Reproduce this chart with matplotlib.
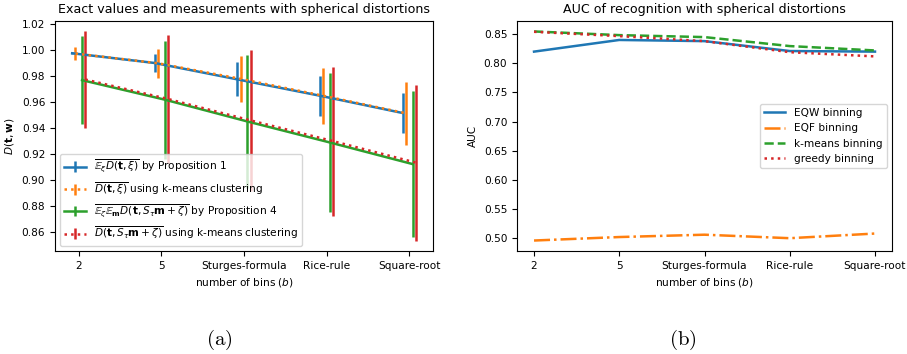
import matplotlib
matplotlib.use("Agg")
import matplotlib.pyplot as plt
import numpy as np

# categories (x axis)
bins = ["2", "5", "Sturges-formula", "Rice-rule", "Square-root"]

# left panel: means and error half-widths
prop1 = [0.9977, 0.9902, 0.9776, 0.9650, 0.9517]
prop1_err = [0.0009, 0.0070, 0.0130, 0.0153, 0.0156]
kmeans_xi = [0.9975, 0.9900, 0.9780, 0.9650, 0.9515]
kmeans_xi_err = [0.0047, 0.0110, 0.0177, 0.0215, 0.0244]
prop4 = [0.9770, 0.9620, 0.9452, 0.9290, 0.9124]
prop4_err = [0.0340, 0.0455, 0.0510, 0.0535, 0.0560]
kmeans_zeta = [0.9775, 0.9625, 0.9460, 0.9300, 0.9135]
kmeans_zeta_err = [0.0370, 0.0490, 0.0540, 0.0575, 0.0600]

# right panel: AUC
auc_eqw = [0.820, 0.840, 0.838, 0.821, 0.820]
auc_eqf = [0.496, 0.502, 0.506, 0.500, 0.508]
auc_kmeans = [0.8546, 0.8483, 0.8449, 0.8295, 0.822]
auc_greedy = [0.854, 0.8466, 0.838, 0.819, 0.8118]

plt.rcParams['font.size'] = 7.6
fig = plt.figure(figsize=(9.07, 3.54), dpi=100)
ax1 = fig.add_axes([0.0606, 0.291, 0.4168, 0.6497])
ax2 = fig.add_axes([0.570, 0.291, 0.4135, 0.6497])

x = np.arange(len(bins))
lw = 1.8
ax1.errorbar(x - 0.08, prop1, yerr=prop1_err, lw=lw, elinewidth=lw,
             label=r'$\overline{\mathbb{E}_\xi D(\mathbf{t},\xi)}$ by Proposition 1')
ax1.errorbar(x - 0.04, kmeans_xi, yerr=kmeans_xi_err, ls=':', lw=lw, elinewidth=lw,
             label=r'$\overline{D(\mathbf{t},\xi)}$ using k-means clustering')
ax1.errorbar(x + 0.04, prop4, yerr=prop4_err, lw=lw, elinewidth=lw,
             label=r'$\overline{\mathbb{E}_\zeta\mathbb{E}_\mathbf{m} D(\mathbf{t},S_\tau\mathbf{m}+\zeta)}$ by Proposition 4')
ax1.errorbar(x + 0.08, kmeans_zeta, yerr=kmeans_zeta_err, ls=':', lw=lw, elinewidth=lw,
             label=r'$\overline{D(\mathbf{t},S_\tau\mathbf{m}+\zeta)}$ using k-means clustering')
ax1.set_xticks(x)
ax1.set_xticklabels(bins)
ax1.set_yticks(np.arange(0.86, 1.021, 0.02))
ax1.set_xlabel(r'number of bins ($b$)')
ax1.set_ylabel(r'$D(\mathbf{t},\mathbf{w})$')
ax1.set_title('Exact values and measurements with spherical distortions')
ax1.legend(loc='lower left')

ax2.plot(x, auc_eqw, '-', lw=lw, label='EQW binning')
ax2.plot(x, auc_eqf, '-.', lw=lw, label='EQF binning')
ax2.plot(x, auc_kmeans, '--', lw=lw, label='k-means binning')
ax2.plot(x, auc_greedy, ':', lw=lw, label='greedy binning')
ax2.set_xticks(x)
ax2.set_xticklabels(bins)
ax2.set_xlabel(r'number of bins ($b$)')
ax2.set_ylabel('AUC')
ax2.set_title('AUC of recognition with spherical distortions')
ax2.legend(loc='center right')

fig.text(0.242, 0.04, r'$\mathrm{(a)}$', fontsize=15, math_fontfamily='cm',
         ha='center', va='center')
fig.text(0.7525, 0.04, r'$\mathrm{(b)}$', fontsize=15, math_fontfamily='cm',
         ha='center', va='center')

plt.savefig("out.png", dpi=100)
